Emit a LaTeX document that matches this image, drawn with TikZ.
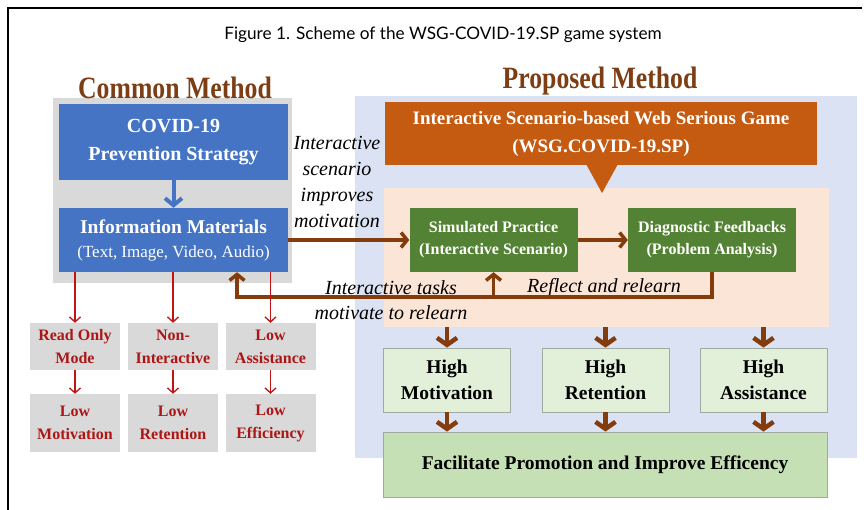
\documentclass[tikz,border=0pt]{standalone}
\usepackage{fontspec}
\setmainfont{Liberation Serif}
\newfontfamily\capfont{Lato}
\usetikzlibrary{arrows.meta}
\definecolor{blu}{RGB}{70,116,196}
\definecolor{lgray}{RGB}{217,217,217}
\definecolor{lav}{RGB}{218,226,243}
\definecolor{org}{RGB}{197,90,17}
\definecolor{pch}{RGB}{251,229,214}
\definecolor{grn}{RGB}{84,130,53}
\definecolor{hgrn}{RGB}{226,240,217}
\definecolor{fgrn}{RGB}{197,224,180}
\definecolor{bgray}{RGB}{160,170,160}
\definecolor{brn}{RGB}{132,60,12}
\definecolor{head}{RGB}{125,62,20}
\definecolor{rtxt}{RGB}{172,22,22}
\definecolor{rarr}{RGB}{192,20,20}
\tikzset{
	bl/.style={fill=blu, text=white, inner sep=0pt, align=center, minimum width=229},
	gr/.style={fill=grn, text=white, inner sep=0pt, align=center, minimum width=168, minimum height=64, font=\bfseries\fontsize{16}{22}\selectfont},
	rd/.style={fill=lgray, text=rtxt, inner sep=0pt, align=center, minimum width=90, font=\bfseries\fontsize{16}{23}\selectfont},
	hi/.style={fill=hgrn, draw=bgray, line width=0.8pt, inner sep=0pt, align=center, minimum width=127, minimum height=64, font=\bfseries\fontsize{19.5}{26}\selectfont},
	hd/.style={text=head, inner sep=0pt, font=\bfseries\fontsize{31}{31}\selectfont},
	it/.style={inner sep=0pt, align=center, font=\itshape\fontsize{20}{26}\selectfont},
	ra/.style={draw=rarr, line width=1.3pt, -{Straight Barb[length=5pt,width=11pt]}},
	ba/.style={draw=brn, line width=3.5pt, -{Straight Barb[length=6pt,width=15pt]}},
	bd/.style={draw=brn, line width=4.5pt, -{Straight Barb[length=7pt,width=20pt]}},
}
\begin{document}
\begin{tikzpicture}[x=1pt,y=-1pt]
	\useasboundingbox (0,0) rectangle (866,510);
	\draw[line width=1.2pt] (8,510) -- (8,8) -- (862,8);

	\node (ttl) at (443,35) {\capfont\fontsize{17.2}{20}\selectfont Figure 1. Scheme of the WSG-COVID-19.SP game system};

	\fill[lgray] (53,98) rectangle (292,283);
	\fill[lav] (355,96) rectangle (857,458);
	\node[fill=pch, inner sep=0pt, minimum width=445, minimum height=139] (zone) at (606.5,257.5) {};

	\node[hd] (cm) at (175,88) {\scalebox{0.83}[1]{Common Method}};
	\node[hd] (pm) at (600,81) {\scalebox{0.83}[1]{Proposed Method}};

	\node[bl, minimum height=76, font=\bfseries\fontsize{20}{28}\selectfont] (covid) at (173.5,142) {COVID-19\\Prevention Strategy};
	\node[bl, minimum height=64, font=\fontsize{17}{24}\selectfont] (info) at (173.5,240) {{\bfseries\fontsize{19.5}{24}\selectfont Information Materials}\\(Text, Image, Video, Audio)};
	\draw[draw=blu, line width=4pt, -{Straight Barb[length=7pt,width=17pt]}] (covid) -- (info);

	\node[fill=org, text=white, inner sep=0pt, align=center, minimum width=432, minimum height=63, font=\bfseries\fontsize{19}{28}\selectfont] (game) at (601,133.5) {Interactive Scenario-based Web Serious Game\\(WSG.COVID-19.SP)};
	\fill[org] (586,164) -- (618,164) -- (602,193) -- cycle;

	\node[gr] (sim) at (493.5,240) {Simulated Practice\\(Interactive Scenario)};
	\node[gr] (diag) at (712,240) {Diagnostic Feedbacks\\(Problem Analysis)};

	\node[it] (why) at (337,182) {Interactive\\scenario\\improves\\motivation};
	\node[it] (tasks) at (391,288) {Interactive tasks};
	\node[it] (relrn) at (391,313) {motivate to relearn};
	\node[it] (refl) at (604,288) {Reflect and relearn};

	\draw[ba] (info) -- (sim);
	\draw[ba] (sim) -- (diag);
	\coordinate (lp) at (237,297);
	\draw[ba] (diag.south) |- (lp) -- (lp |- info.south);
	\draw[ba] (sim.south |- lp) -- (sim.south);

	\node[rd, minimum height=47] (rom) at (75,346.5) {Read Only\\Mode};
	\node[rd, minimum height=47] (nonint) at (173,346.5) {Non-\\Interactive};
	\node[rd, minimum height=47] (lowass) at (270.5,346.5) {Low\\Assistance};
	\node[rd, minimum height=58] (lmot) at (75,423) {Low\\Motivation};
	\node[rd, minimum height=58] (lret) at (173,423) {Low\\Retention};
	\node[rd, minimum height=58] (leff) at (270.5,423) {Low\\Efficiency};
	\foreach \a/\b in {rom/lmot,nonint/lret,lowass/leff} {
		\draw[ra] (\a.north |- info.south) -- (\a.north);
		\draw[ra] (\a) -- (\b);
	}

	\node[hi] (hmot) at (447,380) {High\\Motivation};
	\node[hi] (hret) at (605.5,380) {High\\Retention};
	\node[hi] (hass) at (763.5,380) {High\\Assistance};
	\node[fill=fgrn, draw=bgray, line width=0.8pt, inner sep=0pt, minimum width=444, minimum height=65, font=\bfseries\fontsize{19.5}{26}\selectfont] (fin) at (605,464.5) {Facilitate Promotion and Improve Efficency};
	\foreach \h in {hmot,hret,hass} {
		\draw[bd] (\h.north |- zone.south) -- (\h.north);
		\draw[bd] (\h.south) -- (\h.south |- fin.north);
	}
\end{tikzpicture}
\end{document}
